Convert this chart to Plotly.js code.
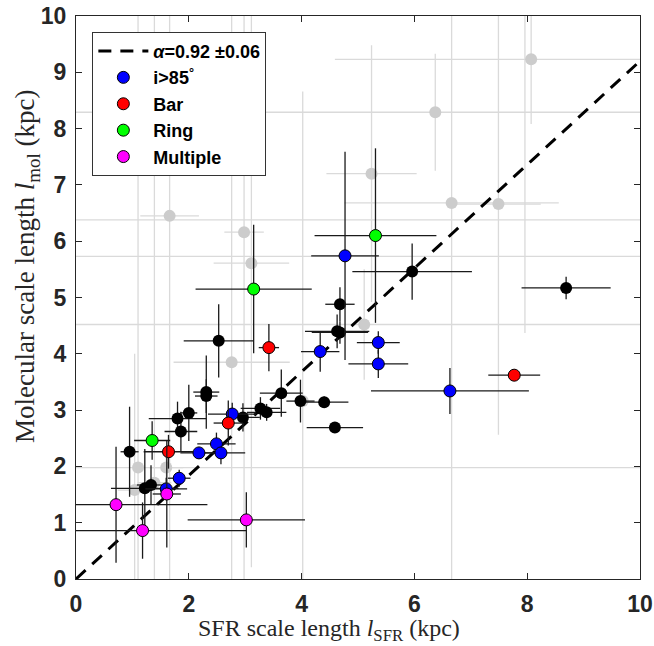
<!DOCTYPE html>
<html><head><meta charset="utf-8">
<script src="https://cdn.plot.ly/plotly-3.0.1.min.js"></script>
<style>html,body{margin:0;padding:0;background:#fff;}</style>
</head><body><div id="chart" style="width:654px;height:646px;"></div>
<script>
// Excluded / uncertain galaxies (grey)
const greyX    = [8.07, 6.37, 5.24, 6.66, 7.49, 1.66, 2.98, 3.11, 5.11, 2.76, 1.10, 1.60, 1.04, 1.39, 12.0, 12.0, 7.96, 4.02];
const greyY    = [9.23, 8.29, 7.20, 6.68, 6.66, 6.45, 6.16, 5.61, 4.52, 3.85, 1.98, 1.98, 1.58, 1.71, 6.38, 5.73, 11.0, 3.16];
const greyXErr = [3.48, 9.00, 0.80, 1.90, 0.75, 0.52, 0.35, 0.67, 9.00, 1.03, 9.00, 0.30, 0.30, 0.30, 20.0, 20.0, 0.00, 0.00];
const greyYErr = [1.15, 1.04, 2.28, 9.00, 4.10, 9.00, 9.00, 5.40, 0.98, 9.00, 9.00, 0.30, 2.42, 9.00, 0.00, 0.00, 6.63, 5.50];

// Regular galaxies (black)
const blackX    = [0.95, 1.22, 1.33, 1.80, 1.86, 2.00, 2.31, 2.31, 2.53, 2.96, 3.27, 3.38, 3.64, 3.98, 4.40, 4.59, 4.63, 4.68, 4.68, 5.96, 8.69];
const blackY    = [2.26, 1.61, 1.67, 2.85, 2.62, 2.95, 3.32, 3.25, 4.23, 2.87, 3.03, 2.96, 3.30, 3.16, 3.14, 2.69, 4.40, 4.38, 4.88, 5.46, 5.17];
const blackXErr = [0.16, 0.60, 0.25, 0.51, 0.29, 0.15, 0.23, 0.20, 0.62, 0.30, 0.35, 0.35, 0.38, 0.25, 0.43, 0.50, 0.57, 0.50, 0.26, 1.06, 0.79];
const blackYErr = [0.80, 0.70, 0.35, 0.30, 0.35, 0.50, 0.65, 0.30, 0.65, 0.25, 0.20, 0.15, 0.42, 0.38, 0.10, 0.05, 0.30, 0.20, 0.30, 0.50, 0.20];

// i > 85 deg (blue)
const incX    = [1.60, 1.83, 2.18, 2.49, 2.57, 2.77, 4.33, 4.77, 5.36, 5.36, 6.63];
const incY    = [1.60, 1.79, 2.24, 2.40, 2.24, 2.93, 4.04, 5.74, 4.20, 3.82, 3.34];
const incXErr = [0.37, 0.20, 0.33, 0.34, 0.43, 0.43, 0.34, 0.60, 0.38, 0.53, 1.40];
const incYErr = [0.20, 0.15, 0.10, 0.20, 0.20, 0.20, 0.36, 1.85, 0.20, 0.25, 0.41];

// Bar (red)
const barX    = [1.64, 2.70, 3.42, 7.77];
const barY    = [2.26, 2.77, 4.11, 3.62];
const barXErr = [0.44, 0.26, 0.18, 0.46];
const barYErr = [0.30, 0.40, 0.42, 0.10];

// Ring (green)
const ringX    = [1.35, 3.15, 5.31];
const ringY    = [2.46, 5.15, 6.10];
const ringXErr = [0.32, 1.03, 1.08];
const ringYErr = [0.34, 1.14, 1.55];

// Multiple (magenta)
const multX    = [0.71, 1.18, 1.61, 3.02];
const multY    = [1.32, 0.86, 1.51, 1.05];
const multXErr = [1.62, 1.85, 0.25, 1.04];
const multYErr = [1.03, 0.50, 0.95, 0.49];

// Fit line l_mol = alpha * l_SFR
const fitX = [0, 10];
const fitY = [0, 9.2];

const legendLabels = ['<i>\u03b1</i>=0.92 \u00b10.06', 'i>85<sup>\u00b0</sup>', 'Bar', 'Ring', 'Multiple'];
const xTitle = 'SFR scale length <i>l</i><sub>SFR</sub> (kpc)';
const yTitle = 'Molecular scale length <i>l</i><sub>mol</sub> (kpc)';

function errTrace(x, y, xe, ye, fill, line, size, ebColor) {
  return {
    type: 'scatter', mode: 'markers', x: x, y: y, showlegend: false, hoverinfo: 'skip',
    marker: {size: size, color: fill, line: {color: line || fill, width: line ? 1 : 0}},
    error_x: {type: 'data', array: xe, visible: true, color: ebColor, thickness: 1.3, width: 0},
    error_y: {type: 'data', array: ye, visible: true, color: ebColor, thickness: 1.3, width: 0}
  };
}
function legTrace(name, fill, rank) {
  return {type: 'scatter', mode: 'markers', x: [null], y: [null], name: name, legendrank: rank,
    showlegend: true, hoverinfo: 'skip',
    marker: {size: 12, color: fill, line: {color: '#000', width: 1}}};
}

const traces = [
  errTrace(greyX, greyY, greyXErr, greyYErr, '#cccccc', null, 12, '#dadada'),
  {type: 'scatter', mode: 'lines', x: fitX, y: fitY, name: legendLabels[0], legendrank: 1,
   line: {color: '#000', width: 3, dash: '13px,9px'}, hoverinfo: 'skip'},
  errTrace(blackX, blackY, blackXErr, blackYErr, '#000000', null, 12, '#1a1a1a'),
  errTrace(incX, incY, incXErr, incYErr, '#0000ff', '#000', 12, '#1a1a1a'),
  errTrace(barX, barY, barXErr, barYErr, '#ff0000', '#000', 12, '#1a1a1a'),
  errTrace(ringX, ringY, ringXErr, ringYErr, '#00ff00', '#000', 12, '#1a1a1a'),
  errTrace(multX, multY, multXErr, multYErr, '#ff00ff', '#000', 12, '#1a1a1a'),
  legTrace(legendLabels[1], '#0000ff', 2),
  legTrace(legendLabels[2], '#ff0000', 3),
  legTrace(legendLabels[3], '#00ff00', 4),
  legTrace(legendLabels[4], '#ff00ff', 5)
];

const tickFont = {family: 'Liberation Sans, Arial, sans-serif', size: 23, weight: 'bold', color: '#262626'};
const titleFamily = 'Liberation Serif, Times New Roman, serif';

const axisCommon = {
  range: [0, 10], autorange: false, showgrid: false, zeroline: false,
  showline: true, linecolor: '#262626', linewidth: 1, mirror: 'ticks',
  ticks: 'inside', ticklen: 6, tickcolor: '#262626', tickfont: tickFont
};

const layout = {
  width: 654, height: 646,
  margin: {l: 76, r: 14, t: 16, b: 67},
  paper_bgcolor: '#fff', plot_bgcolor: '#fff',
  xaxis: Object.assign({}, axisCommon, {dtick: 2, tick0: 0, ticklabelstandoff: 4}),
  yaxis: Object.assign({}, axisCommon, {dtick: 1, tick0: 0, ticklabelstandoff: 4}),
  annotations: [
    {text: xTitle, xref: 'paper', yref: 'paper', x: 0.449, y: -0.091, xanchor: 'center', yanchor: 'middle',
     showarrow: false, font: {family: titleFamily, size: 24, color: '#262626'}},
    {text: yTitle, xref: 'paper', yref: 'paper', x: -0.087, y: 0.556, xanchor: 'center', yanchor: 'middle',
     textangle: -90, showarrow: false, font: {family: titleFamily, size: 27, color: '#262626'}}
  ],
  showlegend: true,
  legend: {x: 0.029, y: 0.972, xanchor: 'left', yanchor: 'top', bgcolor: '#fff',
    bordercolor: '#333', borderwidth: 1, itemwidth: 50, traceorder: 'normal',
    font: {family: 'Liberation Sans, Arial, sans-serif', size: 18, weight: 'bold', color: '#000'}}
};

Plotly.newPlot('chart', traces, layout, {staticPlot: true, displayModeBar: false});
</script></body></html>
